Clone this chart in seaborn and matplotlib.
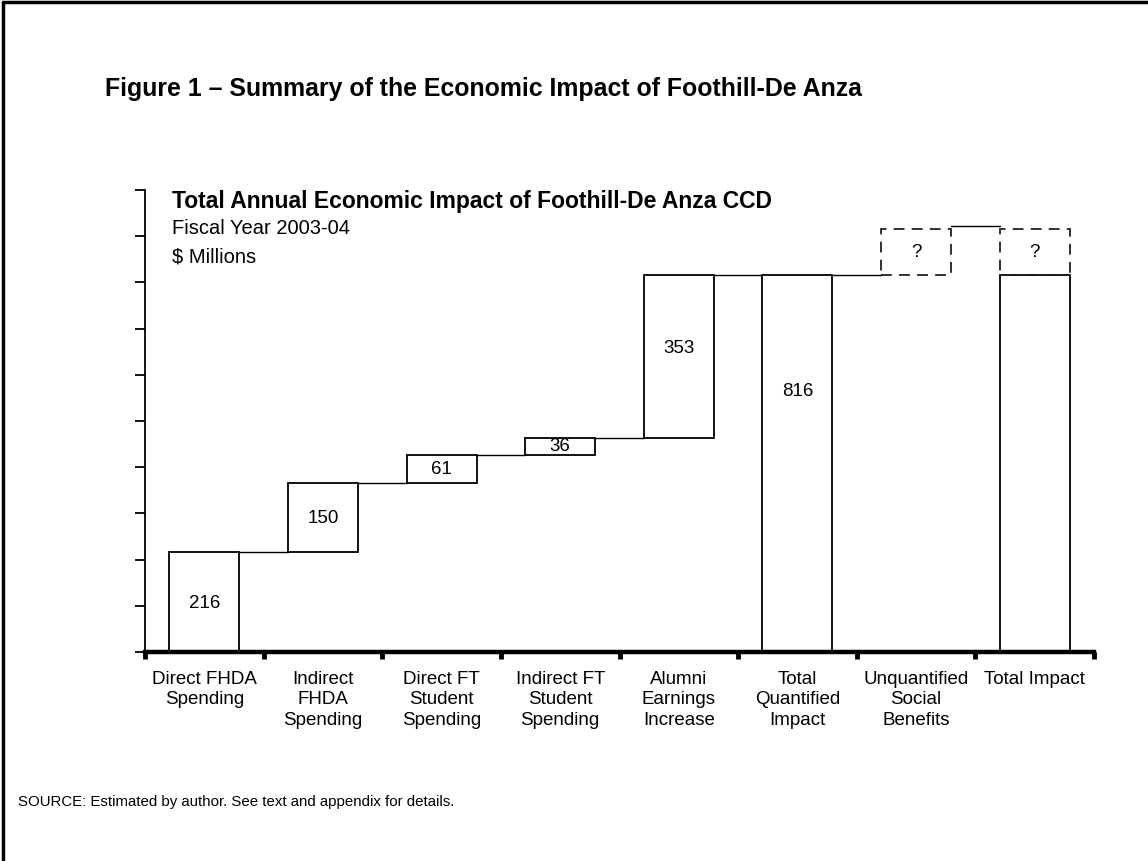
import numpy as np
import pandas as pd
import seaborn as sns
import matplotlib.pyplot as plt

# Chart data ($ millions, FY 2003-04)
categories = ['Direct FHDA\nSpending', 'Indirect\nFHDA\nSpending', 'Direct FT\nStudent\nSpending',
              'Indirect FT\nStudent\nSpending', 'Alumni\nEarnings\nIncrease', 'Total\nQuantified\nImpact',
              'Unquantified\nSocial\nBenefits', 'Total Impact']
increments = [216, 150, 61, 36, 353]
total_quantified = 816
unknown_height = 100      # size of the dashed "?" boxes (not quantified)
unknown_connector = 922   # level of the line into Total Impact
bar_labels = ['216', '150', '61', '36', '353', '816', '?', '?']

# waterfall layout built from the increments
bases = list(np.concatenate([[0], np.cumsum(increments)[:-1]]))
solid = pd.DataFrame({
    'category': categories[:5] + [categories[5], categories[7]],
    'value': increments + [total_quantified, total_quantified],
    'base': bases + [0, 0],
})
dashed = pd.DataFrame({
    'category': [categories[6], categories[7]],
    'value': [unknown_height, unknown_height],
    'base': [total_quantified, total_quantified],
})
levels = list(np.cumsum(increments)) + [total_quantified, unknown_connector]

sns.set_style('white')
plt.rcParams['font.family'] = ['Liberation Sans', 'DejaVu Sans']
plt.rcParams['text.color'] = 'black'
plt.rcParams['xtick.color'] = 'black'
plt.rcParams['ytick.color'] = 'black'

fig = plt.figure(figsize=(11.48, 8.62), dpi=100)
ax = fig.add_axes([145 / 1148, 1 - 653 / 862, 949 / 1148, 462 / 862])

w = 0.59
n0 = len(ax.patches)
sns.barplot(data=solid, x='category', y='value', order=categories, width=w,
            color='white', edgecolor='black', linewidth=1.3, errorbar=None, ax=ax)
for p, b in zip(ax.patches[n0:], solid['base']):
    p.set_y(b)

n1 = len(ax.patches)
sns.barplot(data=dashed, x='category', y='value', order=categories, width=w,
            color='white', edgecolor='#222222', linewidth=1.3, linestyle=(0, (6, 4)),
            errorbar=None, ax=ax)
for p, b in zip(ax.patches[n1:], dashed['base']):
    p.set_y(b)
    p.set_facecolor('none')

# connector lines between neighbouring bars
for i, lvl in enumerate(levels):
    ax.plot([i + w / 2, i + 1 - w / 2], [lvl, lvl], color='black', lw=1.0)

# value labels
label_y = [108, 291, 397, 448, 660, 567, 866, 866]
for i, (t, y) in enumerate(zip(bar_labels, label_y)):
    ax.text(i, y, t, ha='center', va='center', fontsize=13.5)

ax.set_xlim(-0.5, 7.5)
ax.set_ylim(0, 1000)
ax.set_yticks(np.arange(0, 1001, 100))
ax.set_yticklabels([])
ax.set_xticks(range(8))
ax.set_xticklabels(categories, fontsize=13.5, linespacing=1.25)
ax.set_xticks(np.arange(-0.5, 8, 1), minor=True)
ax.set_xlabel('')
ax.set_ylabel('')
ax.tick_params(axis='y', direction='out', length=7, width=1.3, left=True, color='black')
ax.tick_params(axis='x', which='major', length=0, pad=13)
ax.tick_params(axis='x', which='minor', direction='out', length=5, width=3.5, bottom=True, color='black')
for s in ['top', 'right']:
    ax.spines[s].set_visible(False)
ax.spines['left'].set_linewidth(1.3)
ax.spines['left'].set_color('black')
ax.spines['bottom'].set_linewidth(3.2)
ax.spines['bottom'].set_color('black')

ax.text(0.028, 0.978, 'Total Annual Economic Impact of Foothill-De Anza CCD',
        transform=ax.transAxes, fontsize=16.5, fontweight='bold', va='center')
ax.text(0.028, 0.918, 'Fiscal Year 2003-04', transform=ax.transAxes, fontsize=14.5, va='center')
ax.text(0.028, 0.858, '$ Millions', transform=ax.transAxes, fontsize=14.5, va='center')

fig.text(105 / 1148, 1 - 89 / 862, 'Figure 1 \u2013 Summary of the Economic Impact of Foothill-De Anza',
         fontsize=17.9, fontweight='bold', va='center')
fig.text(18 / 1148, 1 - 802 / 862, 'SOURCE: Estimated by author. See text and appendix for details.',
         fontsize=10.8, va='center')

# frame on the top and left edges of the page
fig.add_artist(plt.Line2D([3 / 1148, 3 / 1148], [0, 1 - 3 / 862], color='black', lw=2.5))
fig.add_artist(plt.Line2D([3 / 1148, 1], [1 - 3 / 862, 1 - 3 / 862], color='black', lw=2.5))

plt.savefig('out.png', dpi=100)
